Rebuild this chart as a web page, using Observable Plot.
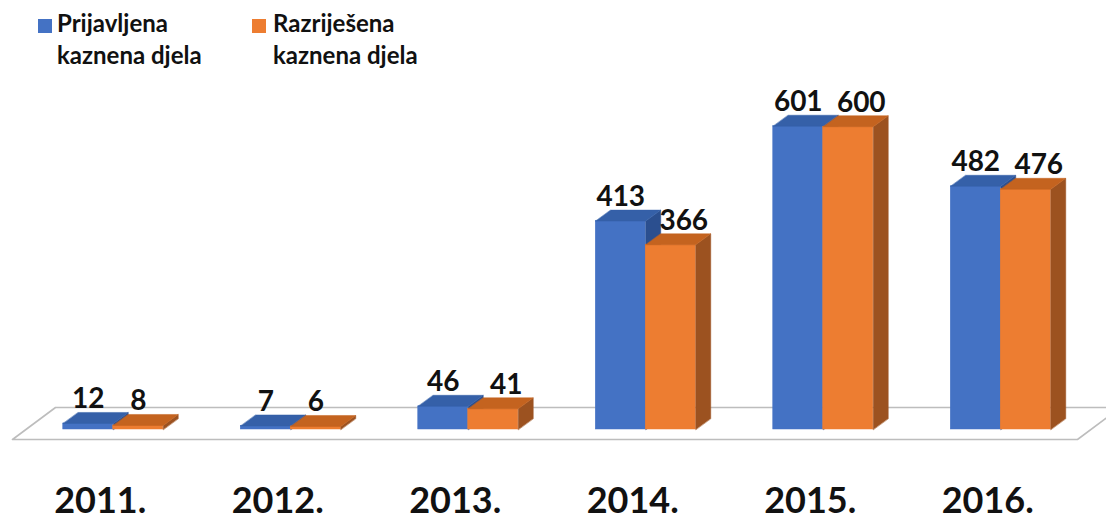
<!DOCTYPE html>
<html><head><meta charset="utf-8">
<script src="https://cdn.jsdelivr.net/npm/d3@7"></script>
<script src="https://cdn.jsdelivr.net/npm/@observablehq/plot@0.6"></script>
<style>
body{margin:0;background:#fff;font-family:Lato, sans-serif;}
#legend{position:relative;height:80px;width:1106px;}
.sw{position:absolute;width:14px;height:14px;top:19px}
.lt{position:absolute;top:7px;font-size:24px;font-weight:700;line-height:32px;white-space:pre-line;color:#111}
#chart svg{display:block}
</style></head><body><div id="legend"></div><div id="chart"></div>
<script>
// ---- data ----
const years = ["2011.", "2012.", "2013.", "2014.", "2015.", "2016."];
const prijavljena = [12, 7, 46, 413, 601, 482];
const razrijesena = [8, 6, 41, 366, 600, 476];
const seriesNames = ["Prijavljena\nkaznena djela", "Razriješena\nkaznena djela"];
const seriesValues = [prijavljena, razrijesena];

// ---- styles ----
const frontCol = ["#4472C4", "#ED7D31"];
const topCol = ["#3560A8", "#C4631F"];
const sideCol = ["#2B4F8F", "#9C5220"];

// legend
const legend = document.getElementById("legend");
const legendX = [[38, 57], [252, 273]];
seriesNames.forEach((n, s) => {
  const sw = document.createElement("div");
  sw.className = "sw"; sw.style.left = legendX[s][0] + "px"; sw.style.background = frontCol[s];
  const t = document.createElement("div");
  t.className = "lt"; t.style.left = legendX[s][1] + "px"; t.textContent = n;
  legend.appendChild(sw); legend.appendChild(t);
});

// geometry
const W = 1106, H = 440, mL = 24, mR = 17, mT = 21, mB = 91;
const xDom = [-0.5, 5.5], yDom = [0, 650];
const kx = (W - mL - mR) / (xDom[1] - xDom[0]);
const ky = (H - mT - mB) / (yDom[1] - yDom[0]);
const px2x = p => xDom[0] + (p - mL) / kx;
const barW = 50 / kx;
const dX = 15 / kx, dY = 11 / ky;

// bars
const bars = [];
years.forEach((yr, i) => {
  seriesValues.forEach((vals, s) => {
    const x0 = s === 0 ? i - barW : i;
    bars.push({id: yr + s, i, s, x0, x1: x0 + barW, v: vals[i]});
  });
});
function faces(s, kind) {
  const pts = [];
  bars.filter(b => b.s === s).forEach(b => {
    let p;
    if (kind === "top") p = [[b.x0, b.v], [b.x1, b.v], [b.x1 + dX, b.v + dY], [b.x0 + dX, b.v + dY]];
    else p = [[b.x1, 0], [b.x1, b.v], [b.x1 + dX, b.v + dY], [b.x1 + dX, dY]];
    p.forEach(([x, y]) => pts.push({id: b.id, x, y}));
  });
  return pts;
}

// floor
const fFront = -10 / ky, fBack = fFront + 32 / ky;
const fdx = 43 / kx;
const floor = [
  {x: px2x(12), y: fFront}, {x: px2x(1077), y: fFront},
  {x: px2x(1077) + fdx, y: fBack}, {x: px2x(12) + fdx, y: fBack}
];

const marks = [
  Plot.line(floor, {x: "x", y: "y", curve: "linear-closed", fill: "white", stroke: "#BDBDBD", strokeWidth: 1.6})
];
[0, 1].forEach(s => {
  const bs = bars.filter(b => b.s === s);
  marks.push(
    Plot.rect(bs, {x1: "x0", x2: "x1", y1: 0, y2: "v", fill: frontCol[s], stroke: frontCol[s], strokeWidth: 0.5}),
    Plot.line(faces(s, "side"), {x: "x", y: "y", z: "id", curve: "linear-closed", fill: sideCol[s], stroke: sideCol[s], strokeWidth: 0.5}),
    Plot.line(faces(s, "top"), {x: "x", y: "y", z: "id", curve: "linear-closed", fill: topCol[s], stroke: topCol[s], strokeWidth: 0.5})
  );
});
// value labels
marks.push(
  Plot.text(bars, {
    x: b => (b.x0 + b.x1) / 2 + (b.s === 1 && b.v > 20 ? 13 / kx : 0),
    y: "v", text: b => String(b.v), lineAnchor: "bottom", dy: -15,
    fontSize: 28, fontWeight: "bold", fill: "#111"
  }),
  Plot.axisX({ticks: d3.range(years.length), tickFormat: i => years[i], tickSize: 0, tickPadding: 58,
    fontSize: 36, fontWeight: "bold", dx: -13, label: null, fill: "#111"})
);

const chart = Plot.plot({
  width: W, height: H, marginLeft: mL, marginRight: mR, marginTop: mT, marginBottom: mB,
  x: {domain: xDom, label: null},
  y: {domain: yDom, axis: null, label: null},
  style: {fontFamily: "Lato, sans-serif", background: "white", overflow: "hidden"},
  marks
});
document.getElementById("chart").appendChild(chart);
</script></body></html>
